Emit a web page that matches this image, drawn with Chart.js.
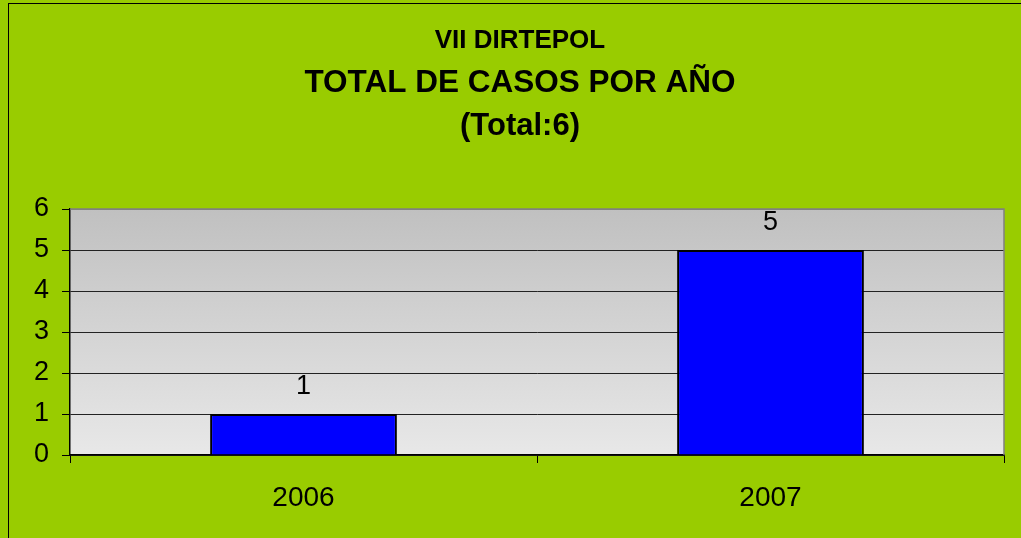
<!DOCTYPE html>
<html>
<head>
<meta charset="utf-8">
<script src="https://cdn.jsdelivr.net/npm/chart.js@4/dist/chart.umd.min.js"></script>
<style>
  html, body { margin: 0; padding: 0; background: #99CC00; }
  #grafico { display: block; }
</style>
</head>
<body>
<canvas id="grafico" width="1021" height="538"></canvas>
<script>
// datos del grafico
const anios = ['2006', '2007'];
const casos = [1, 5];
const titulos = ['VII DIRTEPOL', 'TOTAL DE CASOS POR AÑO', '(Total:6)'];
const marcasY = [0, 1, 2, 3, 4, 5, 6];

const FUENTE = '"Liberation Sans", Arial, sans-serif';

// fondo verde, marco, degradado del area y titulos
const pluginFondo = {
  id: 'pluginFondo',
  beforeDraw(chart) {
    const { ctx, chartArea: a, width, height } = chart;
    ctx.save();
    ctx.fillStyle = '#99CC00';
    ctx.fillRect(0, 0, width, height);
    ctx.strokeStyle = '#000';
    ctx.lineWidth = 1;
    ctx.strokeRect(8.5, 3.5, width + 20, height + 20);

    const g = ctx.createLinearGradient(0, a.top, 0, a.bottom);
    g.addColorStop(0, '#c0c0c0');
    g.addColorStop(1, '#e8e8e8');
    ctx.fillStyle = g;
    ctx.fillRect(a.left, a.top, a.right - a.left, a.bottom - a.top);

    ctx.fillStyle = '#000';
    ctx.textAlign = 'center';
    ctx.textBaseline = 'middle';
    const cx = 520;
    ctx.font = 'bold 26px ' + FUENTE;
    ctx.fillText(titulos[0], cx, 41);
    ctx.font = 'bold 31.5px ' + FUENTE;
    ctx.fillText(titulos[1], cx, 83);
    ctx.font = 'bold 31px ' + FUENTE;
    ctx.fillText(titulos[2], cx, 126);
    ctx.restore();
  },
  afterDatasetsDraw(chart) {
    const { ctx, chartArea: a } = chart;
    ctx.save();
    // borde superior y derecho gris
    ctx.strokeStyle = '#808080';
    ctx.lineWidth = 1.5;
    ctx.beginPath();
    ctx.moveTo(a.left, a.top);
    ctx.lineTo(a.right, a.top);
    ctx.lineTo(a.right, a.bottom);
    ctx.stroke();

    // etiquetas de valor sobre las barras
    ctx.fillStyle = '#000';
    ctx.font = '27px ' + FUENTE;
    ctx.textAlign = 'center';
    ctx.textBaseline = 'middle';
    const meta = chart.getDatasetMeta(0);
    meta.data.forEach((bar, i) => {
      ctx.fillText(String(casos[i]), bar.x, bar.y - 27);
    });
    ctx.restore();
  }
};

new Chart(document.getElementById('grafico'), {
  type: 'bar',
  data: {
    labels: anios,
    datasets: [{
      data: casos,
      backgroundColor: '#0000FF',
      borderColor: '#000',
      borderWidth: 2,
      categoryPercentage: 0.4,
      barPercentage: 1
    }]
  },
  options: {
    responsive: false,
    animation: false,
    events: [],
    layout: { padding: { top: 209, right: 17, left: 0, bottom: 0 } },
    plugins: {
      legend: { display: false },
      tooltip: { enabled: false }
    },
    scales: {
      x: {
        offset: true,
        grid: {
          offset: true,
          drawOnChartArea: false,
          tickLength: 8,
          tickColor: '#000'
        },
        border: { color: '#000', width: 1.5 },
        ticks: {
          color: '#000',
          padding: 18,
          font: { family: FUENTE, size: 28 }
        },
        afterFit(scale) { scale.height = 83; }
      },
      y: {
        min: 0,
        max: 6,
        afterBuildTicks(scale) { scale.ticks = marcasY.map(v => ({ value: v })); },
        grid: {
          color: ctx => ctx.tick && ctx.tick.value === 6 ? '#808080' : '#222',
          tickColor: '#000',
          tickLength: 8,
          lineWidth: 1
        },
        border: { color: '#000', width: 1.5 },
        ticks: {
          color: '#000',
          padding: 13,
          font: { family: FUENTE, size: 27 }
        },
        afterFit(scale) { scale.width = 70; }
      }
    }
  },
  plugins: [pluginFondo]
});
</script>
</body>
</html>
